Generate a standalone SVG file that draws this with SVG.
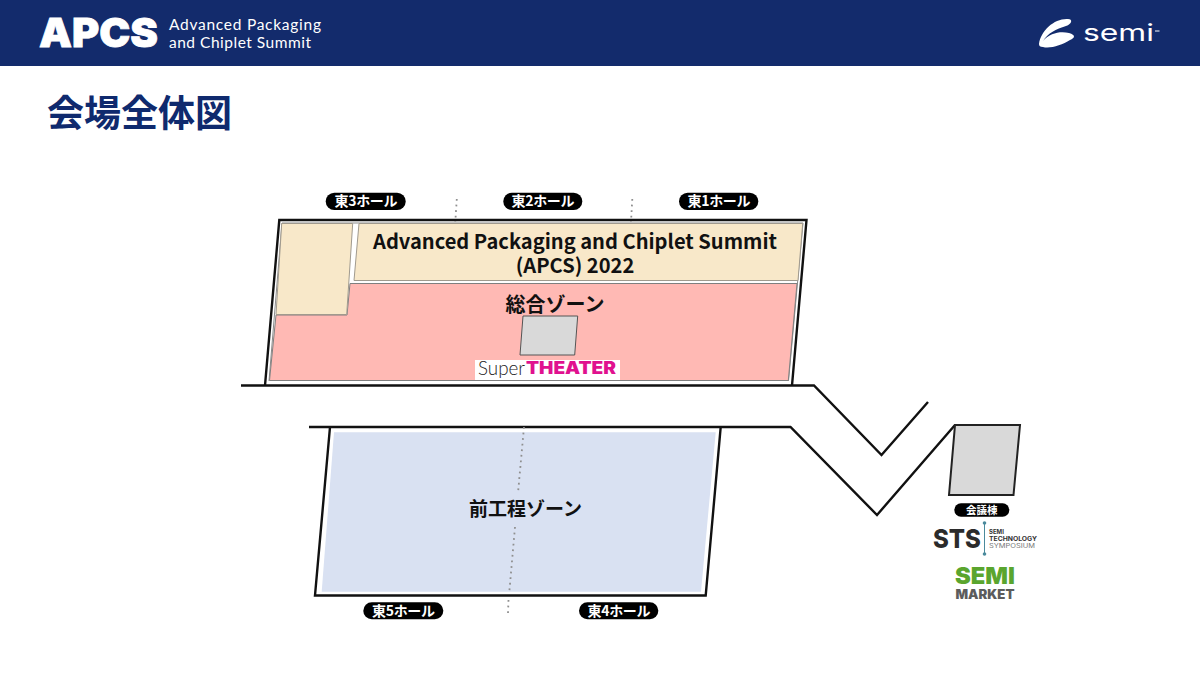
<svg xmlns="http://www.w3.org/2000/svg" width="1200" height="675" viewBox="0 0 1200 675">
<style>
.jp{font-family:"Noto Sans CJK JP","Noto Sans",sans-serif;font-weight:700}
.zone{font-size:20px;fill:#111;text-anchor:middle}
.pilltext{font-size:14px;fill:#fff;text-anchor:middle}
.pill{fill:#000}
.wall{fill:none;stroke:#111;stroke-width:2.4;stroke-linejoin:miter}
.dots{fill:none;stroke:#8f8f8f;stroke-width:1.800;stroke-dasharray:1.800 3.800}
.beige{fill:#f8e8c9;stroke:#a09a8e;stroke-width:1}
.pink{fill:#ffb9b4;stroke:#7f7f7f;stroke-width:1}
.grey{fill:#d9d9d9;stroke:#555;stroke-width:1}
.sans{font-family:"Inter","Liberation Sans",sans-serif}
</style>
<rect id="header" width="1200" height="66" fill="#132b6c"/>
<g id="apcs-logo" class="sans" fill="#fff">
<text x="39" y="47" font-size="40" font-weight="900" textLength="119" lengthAdjust="spacingAndGlyphs" stroke="#fff" stroke-width="0.8">APCS</text>
<text x="169" y="30" font-size="15.500" font-family="Lato,sans-serif" textLength="152">Advanced Packaging</text>
<text x="169" y="48" font-size="15.500" font-family="Lato,sans-serif" textLength="142">and Chiplet Summit</text>
</g>
<g id="semi-logo" fill="#fff">
<path d="M1039 44C1041 30 1055 18 1068 19C1073 19 1072 24 1066 26C1056 29 1048 33 1043 41C1050 33 1060 31 1069 33C1076 35 1075 38 1070 40C1062 45 1050 49 1043 47C1040 47 1039 46 1039 44Z"/>
<text x="1083" y="41" font-family="Inter,sans-serif" font-size="23" textLength="71" lengthAdjust="spacingAndGlyphs">semi</text>
<rect x="1155" y="30.500" width="4.500" height="1"/>
</g>
<text id="title" class="jp" x="47" y="127" font-size="37" fill="#0f2a6e">会場全体図</text>
<g id="east-hall-123">
<path class="wall" d="M265 385.500L279.300 220H806.500L792 385.500"/>
<path fill="none" stroke="#8a8a8a" stroke-width="1" d="M269 381L282 223H803L788.500 381"/>
<path id="pink-zone" class="pink" d="M350 283.500H797L788.300 380.500H269.500L276 315H347Z"/>
<path id="beige-left" class="beige" d="M281.700 223.500H352.700L346.700 314.500H276Z"/>
<path id="beige-main" class="beige" d="M359 223.500H802.700L798 280.500H354Z"/>
<path id="stage" class="grey" d="M523 316H577.700L574.700 355H520Z"/>
<text class="jp" x="575" y="249" font-size="20.100" fill="#111" text-anchor="middle">Advanced Packaging and Chiplet Summit</text>
<text class="jp" x="575" y="272.500" font-size="20.100" fill="#111" text-anchor="middle">(APCS) 2022</text>
<text class="jp zone" x="555" y="312">総合ゾーン</text>
</g>
<g id="super-theater">
<rect x="475" y="360" width="145" height="20" fill="#fff"/>
<text x="478" y="375" font-family="Lato,sans-serif" font-size="19" font-weight="300" fill="#222" textLength="47" lengthAdjust="spacingAndGlyphs">Super</text>
<text x="526" y="374" font-family="Inter,sans-serif" font-size="17" font-weight="900" fill="#e0118f" textLength="90" lengthAdjust="spacingAndGlyphs">THEATER</text>
</g>
<g id="east-hall-45">
<path class="wall" d="M330 427L315 595.500H705.700L720.700 427"/>
<path fill="#d9e1f2" d="M334 432.300H715.700L701 591.700H321.700Z"/>
<text class="jp zone" x="525.500" y="516" style="font-size:19px">前工程ゾーン</text>
</g>
<g id="connectors">
<path class="wall" d="M241 385.500H814L881.500 455L928 402"/>
<path class="wall" d="M309 427H790.500L877 515L955 425"/>
<path class="dots" d="M456.800 199L455.300 222"/>
<path class="dots" d="M632.300 199L631 222"/>
<path class="dots" d="M524 427L518 493"/>
<path class="dots" d="M515 527L509.300 592"/>
<path class="dots" d="M508.500 600L508 613"/>
</g>
<g id="pill-east3"><rect class="pill" x="325.700" y="192.700" width="80" height="17.300" rx="8.600"/><text class="jp pilltext" x="366" y="206" textLength="63" lengthAdjust="spacing">東3ホール</text></g>
<g id="pill-east2"><rect class="pill" x="503.300" y="192.700" width="79" height="17.300" rx="8.600"/><text class="jp pilltext" x="543" y="206" textLength="63" lengthAdjust="spacing">東2ホール</text></g>
<g id="pill-east1"><rect class="pill" x="679" y="192.700" width="79.300" height="17.300" rx="8.600"/><text class="jp pilltext" x="719" y="206" textLength="63" lengthAdjust="spacing">東1ホール</text></g>
<g id="pill-east5"><rect class="pill" x="363.300" y="602.300" width="80" height="17" rx="8.500"/><text class="jp pilltext" x="403.500" y="615.500" textLength="63" lengthAdjust="spacing">東5ホール</text></g>
<g id="pill-east4"><rect class="pill" x="579" y="602.300" width="79.300" height="17" rx="8.500"/><text class="jp pilltext" x="619" y="615.500" textLength="63" lengthAdjust="spacing">東4ホール</text></g>
<g id="conference-building">
<path fill="#d9d9d9" stroke="#222" stroke-width="2" d="M955 425H1020L1013.500 495H949Z"/>
<rect class="pill" x="954.300" y="503.300" width="55" height="13.400" rx="6.700"/>
<text class="jp" x="981.800" y="514" font-size="10.500" fill="#fff" text-anchor="middle">会議棟</text>
</g>
<g id="sts-logo">
<text x="933" y="548" font-family="Inter,sans-serif" font-size="26" font-weight="800" fill="#2b2b2b" textLength="48" lengthAdjust="spacingAndGlyphs">STS</text>
<path d="M984.500 523V554" stroke="#4a8a9c" stroke-width="1"/>
<circle cx="984.500" cy="523" r="1.800" fill="#4a8a9c"/>
<circle cx="984.500" cy="554" r="1.800" fill="#4a8a9c"/>
<g font-family="Inter,sans-serif" font-size="6" font-weight="700" fill="#333">
<text x="989" y="534">SEMI</text>
<text x="989" y="541" textLength="48" lengthAdjust="spacingAndGlyphs">TECHNOLOGY</text>
<text x="989" y="548" textLength="46" lengthAdjust="spacingAndGlyphs" font-weight="400" fill="#777">SYMPOSIUM</text>
</g>
</g>
<g id="semi-market">
<text x="955" y="584" font-family="Inter,sans-serif" font-size="23" font-weight="900" fill="#5aa52e" textLength="60" lengthAdjust="spacingAndGlyphs">SEMI</text>
<text x="955.500" y="598.500" font-family="Inter,sans-serif" font-size="12.500" font-weight="900" fill="#5c5c5c" textLength="59" lengthAdjust="spacingAndGlyphs">MARKET</text>
</g>
</svg>
